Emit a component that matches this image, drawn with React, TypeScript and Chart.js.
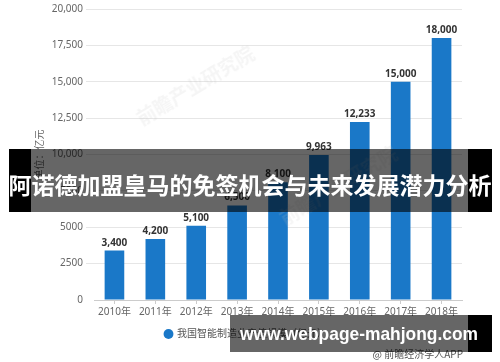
import React, { useEffect, useRef } from 'react';
import { Chart, registerables } from 'chart.js';

Chart.register(...registerables);

// ---- data ----
const years = ['2010年', '2011年', '2012年', '2013年', '2014年', '2015年', '2016年', '2017年', '2018年'];
const outputValues = [3400, 4200, 5100, 6500, 8100, 9963, 12233, 15000, 18000];
const yMin = 0;
const yMax = 20000;
const yStep = 2500;
const seriesName = '我国智能制造业产值规模（亿元）';
const yTitle = '单位：亿元';
const sourceText = '@ 前瞻经济学人APP';
const watermarkText = '前瞻产业研究院';
const bannerTitle = '阿诺德加盟皇马的免签机会与未来发展潜力分析';
const bannerUrl = 'www.webpage-mahjong.com';

const FONT = "'Noto Sans', 'Noto Sans CJK SC', sans-serif";
const BAR_COLOR = '#1a78c8';

const fmtTick = (v: number) => (v >= 10000 ? v.toLocaleString('en-US') : String(v));

const valueLabels = {
  id: 'valueLabels',
  afterDatasetsDraw(chart: any) {
    const ctx = chart.ctx;
    const meta = chart.getDatasetMeta(0);
    ctx.save();
    ctx.font = `bold 10px ${FONT}`;
    ctx.fillStyle = '#333333';
    ctx.textAlign = 'center';
    ctx.textBaseline = 'alphabetic';
    meta.data.forEach((bar: any, i: number) => {
      ctx.fillText(outputValues[i].toLocaleString('en-US'), bar.x, bar.y - 5);
    });
    ctx.restore();
  },
};

export default function App() {
  const canvasRef = useRef<HTMLCanvasElement | null>(null);
  const urlRef = useRef<HTMLSpanElement | null>(null);

  useEffect(() => {
    if (!canvasRef.current) return;
    const chart = new Chart(canvasRef.current, {
      type: 'bar',
      data: {
        labels: years,
        datasets: [
          {
            label: seriesName,
            data: outputValues,
            backgroundColor: BAR_COLOR,
            borderWidth: 0,
            categoryPercentage: 1,
            barPercentage: 0.48,
          },
        ],
      },
      options: {
        animation: false,
        responsive: false,
        devicePixelRatio: 1,
        layout: { padding: { left: 30, right: 38, top: 8, bottom: 13 } },
        font: { family: FONT },
        scales: {
          x: {
            grid: {
              display: true,
              drawOnChartArea: false,
              drawTicks: true,
              tickLength: 4,
              offset: false,
              color: '#cccccc',
            },
            border: { display: true, color: '#cccccc' },
            ticks: { color: '#666666', font: { size: 10, family: FONT }, padding: 2, maxRotation: 0 },
            afterFit: (s: any) => {
              s.height = 19;
            },
          },
          y: {
            min: yMin,
            max: yMax,
            ticks: {
              stepSize: yStep,
              callback: (v: any) => fmtTick(Number(v)),
              color: '#666666',
              font: { size: 10, family: FONT },
              padding: 3,
            },
            grid: {
              color: (c: any) => (c.tick && c.tick.value === 0 ? 'rgba(0,0,0,0)' : '#e6e6e6'),
              tickLength: 8,
            },
            border: { display: false },
            title: {
              display: true,
              text: yTitle,
              color: '#666666',
              font: { size: 10, family: FONT },
              padding: { top: 4, bottom: 0 },
            },
            afterFit: (s: any) => {
              s.width = 64;
            },
          },
        },
        plugins: {
          legend: {
            position: 'bottom',
            labels: {
              usePointStyle: true,
              pointStyle: 'circle',
              boxWidth: 7,
              boxHeight: 7,
              color: '#555555',
              font: { size: 10, family: FONT },
              padding: 10,
            },
          },
          tooltip: { enabled: false },
        },
      },
      plugins: [valueLabels],
    } as any);

    if (urlRef.current) {
      const w = urlRef.current.getBoundingClientRect().width;
      if (w > 0) urlRef.current.style.transform = `scaleX(${238 / w})`;
    }

    return () => chart.destroy();
  }, []);

  const abs = (o: React.CSSProperties): React.CSSProperties => ({ position: 'absolute', ...o });

  const wm: React.CSSProperties = {
    width: 150,
    textAlign: 'center',
    transform: 'rotate(-31deg)',
    fontFamily: "'Noto Sans CJK SC', sans-serif",
    fontWeight: 700,
    fontSize: 19,
    lineHeight: '22px',
    color: 'rgba(190,190,190,0.16)',
    whiteSpace: 'nowrap',
  };

  return (
    <div style={{ position: 'absolute', left: 0, top: 0, width: 500, height: 362, background: '#ffffff', overflow: 'hidden' }}>
      <canvas ref={canvasRef} width={500} height={362} style={abs({ left: 0, top: 0, width: 500, height: 362 })} />

      {/* faint watermarks */}
      <div style={abs({ left: 120, top: 74, ...wm })}>{watermarkText}</div>
      <div style={abs({ left: 263, top: 174, ...wm })}>{watermarkText}</div>

      {/* source */}
      <div
        style={abs({
          right: 37,
          top: 347,
          fontFamily: "'Noto Sans CJK SC', sans-serif",
          fontSize: 10,
          lineHeight: '14px',
          color: '#555555',
          whiteSpace: 'nowrap',
        })}
      >
        {sourceText}
      </div>

      {/* title banner overlay */}
      <div style={abs({ left: 9, top: 149, width: 22, height: 63, background: '#000000' })} />
      <div style={abs({ left: 31, top: 149, width: 437, height: 63, background: 'rgba(0,0,0,0.6)' })} />
      <div style={abs({ left: 468, top: 149, width: 24, height: 63, background: '#000000' })} />
      <div
        style={abs({
          left: 0,
          top: 149,
          width: 500,
          height: 63,
          display: 'flex',
          alignItems: 'center',
          justifyContent: 'center',
          paddingTop: 6,
          boxSizing: 'border-box',
          fontFamily: "'Noto Sans CJK SC', sans-serif",
          fontWeight: 700,
          fontSize: 23,
          color: '#ffffff',
          whiteSpace: 'nowrap',
        })}
      >
        {bannerTitle}
      </div>

      {/* url banner overlay */}
      <div style={abs({ left: 230, top: 315, width: 238, height: 37, background: 'rgba(0,0,0,0.6)' })} />
      <div style={abs({ left: 468, top: 315, width: 24, height: 37, background: '#000000' })} />
      <div
        style={abs({
          left: 240,
          top: 315,
          height: 37,
          display: 'flex',
          alignItems: 'center',
          fontFamily: "'Liberation Sans', Arial, sans-serif",
          fontWeight: 700,
          fontSize: 19,
          color: '#ffffff',
          whiteSpace: 'nowrap',
        })}
      >
        <span ref={urlRef} style={{ display: 'inline-block', transformOrigin: '0 50%' }}>
          {bannerUrl}
        </span>
      </div>
    </div>
  );
}
